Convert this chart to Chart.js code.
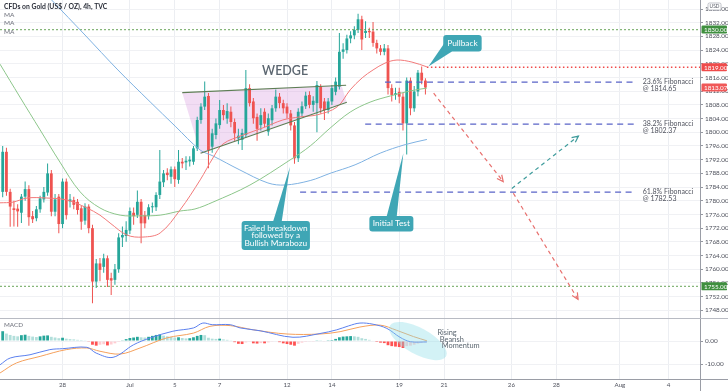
<!DOCTYPE html>
<html><head><meta charset="utf-8">
<script src="https://cdn.jsdelivr.net/npm/chart.js@4.4.1/dist/chart.umd.min.js"></script>
<style>
html,body{margin:0;padding:0;background:#fff;}
#wrap{position:relative;width:728px;height:391px;overflow:hidden;background:#fff;}
canvas{position:absolute;left:0;}
#a{top:0}
#b{top:319px}
</style></head><body>
<div id="wrap"><canvas id="a" width="728" height="319"></canvas><canvas id="b" width="728" height="72"></canvas></div>
<script>
// ---------------- DATA ----------------
const opens = [1782.6,1794.3,1782.6,1777.8,1777.7,1776.5,1781.2,1783.4,1775.5,1774.9,
1777.5,1780.4,1782.4,1788,1776.8,1781.2,1773.2,1785.6,1779.8,1780.2,
1779.7,1777.8,1774.2,1778.3,1772,1756.4,1761.7,1760.7,1763.2,1757.4,
1756.9,1760,1769.3,1769.7,1771.3,1776.5,1775.9,1779.7,1775.8,1775.5,
1778.1,1778.1,1781.7,1785.4,1788.2,1787,1789.2,1786.1,1791.4,1791.2,
1791.5,1791.4,1795.3,1803.6,1807.5,1810.6,1795.8,1799.2,1802.1,1806.5,
1804,1806,1803,1798.2,1797.8,1799.2,1812.9,1809,1804.5,1802.1,
1806,1800.2,1803.5,1807,1810.4,1808.5,1807.5,1805.5,1802,1792.4,
1805.5,1807.6,1810.9,1808,1808.5,1813.3,1809,1806.5,1809,1811.8,
1813.3,1823.5,1824,1827.4,1828.3,1829.9,1833,1829,1829.6,1829.4,
1826.1,1824.5,1823.5,1824.5,1812.9,1810.9,1811.8,1810.4,1802.6,1815.1,
1807,1811.9,1817.4,1815.1];
const closes = [1794.3,1782.6,1778.3,1777.3,1776.9,1781.2,1783.4,1775.2,1774.6,1777.5,
1780.7,1782.6,1788,1776.8,1780.4,1773.2,1785.6,1775.8,1780.4,1778.8,
1777.3,1773.9,1778.3,1772,1756.4,1761.7,1759.8,1763.2,1756.9,1756.7,
1760,1769.3,1770,1771.5,1777,1775.5,1779.7,1773.4,1773.4,1778.1,
1778.4,1781.7,1785.6,1788,1787.5,1789.2,1786.3,1791.4,1790.9,1791.7,
1792,1795.3,1803.6,1807.5,1810.4,1794.8,1799.7,1802.6,1806.5,1805,
1806.2,1803,1799.7,1799,1799.8,1812.9,1808.5,1804.1,1801,1805,
1802.5,1804.1,1807,1810.4,1808.5,1807,1805.5,1802,1792.4,1806,
1807.6,1810.7,1808,1809.2,1813.8,1807,1806.5,1809,1812.9,1814.8,
1823.5,1824.2,1827.4,1828.3,1829.9,1833,1827.1,1829.6,1829.2,1826.1,
1824.5,1823.5,1824.5,1812.9,1810.9,1811.4,1810.4,1802.6,1815.1,1807,
1811.9,1817.4,1815.1,1813.07];
const highs = [1796,1795.5,1783.5,1780,1779,1782,1785.6,1784.5,1777,1778.5,
1781.5,1784,1790.9,1789,1782,1782,1786.5,1786.5,1782,1781.2,
1780.5,1778.5,1779.3,1779,1773,1763,1763.3,1764.5,1764,1759,
1761.5,1770.5,1772.5,1774,1778,1778,1783,1780.5,1777,1779,
1779.5,1782.5,1794.8,1789,1789.5,1790,1790,1794.8,1792.5,1793,
1793,1796,1804.5,1808.5,1814.8,1811.5,1801,1804,1809.4,1808,
1808.5,1807.5,1804,1801,1801,1818.2,1814,1810,1805.5,1807,
1807,1805.5,1808,1812.5,1811.5,1809.5,1808.5,1806.5,1803,1807,
1809,1811.8,1812,1810.5,1815,1814,1810,1810,1813.8,1816,
1829,1826,1828.5,1829.5,1831,1834.6,1834,1832.4,1830.5,1832.2,
1827,1825.5,1825.8,1825.5,1814,1813,1813,1811.5,1816,1816,
1813.5,1818.2,1819.2,1815.8];
const lows = [1781,1781.5,1772.4,1772.5,1772.4,1773.5,1780,1772.7,1773.5,1774,
1776.5,1779.5,1781.5,1775.5,1775.5,1770.5,1772,1774.5,1778,1777.5,
1776,1771.5,1773,1770.5,1750.1,1754.5,1756.5,1759,1754.8,1752.5,
1755.5,1759,1766.5,1768,1770.3,1773,1775,1767.6,1772,1774.5,
1776.5,1777,1780.5,1784,1786,1785,1784,1785,1789.5,1789,
1790,1790.5,1794.5,1802.5,1806.5,1789.5,1794,1798,1801,1803.5,
1802.5,1801.5,1797.5,1796.5,1794.8,1798.5,1807.5,1802.5,1797.5,1800.5,
1801.5,1799,1802,1806,1807,1805.5,1804,1800.5,1790.8,1791.3,
1804.5,1806.8,1807,1806,1800,1805.5,1803.6,1805.5,1808,1810.8,
1812.5,1821.5,1823,1826,1827.2,1829,1824,1827.5,1827.5,1825,
1823,1822.5,1822.5,1811,1809,1809.5,1808.5,1800.5,1793.5,1805,
1806,1810.5,1814,1811];

// moving averages: [bar index, price]
const ma20 = [[-0.72,1779.4],[2.75,1779.6],[6.5,1780.8],[11.8,1780.8],[17.2,1780.2],[22.5,1777.9],[26,1775.8],[28.7,1773.5],[33.2,1770],[37.5,1769.4],[42.1,1770.6],[47.4,1777.3],[52.8,1786.1],[56.2,1792.5],[58.9,1796.6],[64.3,1799.2],[69.6,1801.3],[74.9,1803.6],[79.5,1804.5],[84.1,1805.1],[89.4,1807.4],[92.9,1812.4],[96.1,1815.9],[99,1818.2],[102.2,1820.2],[105.4,1821.1],[109.4,1820.5],[113.4,1819.1]];
const ma50 = [[-0.72,1819.9],[4.6,1810.3],[10,1800.7],[15.3,1791.3],[20.7,1782.6],[26,1777.9],[31.4,1775.8],[36.7,1775.6],[42.1,1775.8],[47.4,1777],[51.4,1777.6],[56.2,1779.6],[66.1,1784.6],[76.8,1791.9],[82.2,1796],[87.5,1801.2],[92.9,1805.9],[98.2,1808.8],[103.6,1810.6],[109,1812.1],[113.4,1812.9]];
const ma100 = [[7.3,1845.4],[13.1,1838.6],[22,1828.4],[30.8,1818.2],[39.4,1808.9],[46.1,1801.8],[52.8,1794.8],[56.2,1793.1],[63.4,1789],[70.9,1785.2],[75.5,1784.6],[82.2,1785.9],[87.5,1788],[94.2,1790.5],[100.9,1793.9],[107.6,1796.4],[113.4,1797.9]];

// MACD pane
const macdHist = [4.2,3.2,2.6,2.2,2.0,2.5,2.7,2.2,1.9,1.7,
2.0,2.3,2.4,1.8,1.5,1.2,1.4,1.0,0.8,0.7,
0.5,0.4,0.3,-0.3,-1.6,-2.0,-1.6,-1.4,-1.9,-1.5,
-1.0,-0.4,0.3,0.8,1.3,1.5,1.8,1.6,1.5,1.8,
2.2,2.6,2.8,2.3,2.0,1.8,1.5,1.6,1.3,1.1,
1.2,1.6,2.2,2.6,2.5,1.4,1.0,0.9,1.0,0.7,
0.5,0.3,-0.5,-1.2,-1.3,-0.6,-0.3,-1.0,-1.1,-0.9,
-1.0,-0.6,-0.3,-0.2,-0.5,-1.0,-1.3,-1.6,-2.0,-1.2,
-0.7,-0.4,-0.3,-0.1,0.3,0.1,-0.2,0.1,0.4,0.9,
1.6,1.9,2.0,2.1,2.0,1.8,1.2,0.9,0.5,0.2,
-0.4,-0.7,-0.9,-1.8,-2.2,-2.4,-2.6,-3.0,-2.2,-2.0,
-1.6,-1.1,-0.8,-0.6];
const macdLine = [[-0.7,-10.2],[2,-7.3],[7.3,-5.9],[12.6,-3.7],[16,-3.3],[22.5,-2.7],[25,-5.2],[29.5,-7],[35,-1.6],[39.4,1.3],[45.5,4.2],[51,5.6],[53.5,7.7],[56,7],[60.8,7],[63.5,5.6],[68.8,4.4],[77.6,1.6],[84.8,3.2],[89.3,4.8],[92.5,6.5],[95.5,7.7],[99,7.2],[102.7,5.4],[106.2,1.6],[109,-0.3],[113.4,-0.4]];
const signalLine = [[-0.7,-13.7],[3.7,-9.4],[10,-6.6],[17,-3.7],[22.5,-3],[26,-4.4],[31.4,-5.6],[36.7,-3],[43.8,1.3],[51,3.4],[55.4,6.3],[60.8,6.6],[67,4.8],[76,3],[84.8,3],[90.2,4.0],[95.5,6.0],[100.9,6.8],[105.3,4.6],[109.8,1.9],[113.4,0.1]];

// axes
const dayTicks  = [16,34,46,58,76,88,106,118,136,148,165,178];
const dayLabels = ['28','Jul','5','7','12','14','19','21','26','28','Aug','4'];
const priceTicks = [1748,1752,1756,1760,1764,1768,1772,1776,1780,1784,1788,1792,1796,1800,1804,1808,1812,1816,1820,1824,1828,1832,1836];
const macdTicks = [0,-10];

// levels & drawings
const fibNames  = ['23.6% Fibonacci','38.2% Fibonacci','61.8% Fibonacci'];
const fibLevels = [1814.65,1802.37,1782.53];
const fibStart  = [102.2,96.9,79.5];
const fibEnd    = 169.1;
const supportLevels = [1830,1755];
const resistanceLevel = 1819;
const resistanceStart = 113.4;
const lastPrice = 1813.07;
const wedgeFill  = [[48.0,1811.57],[90.6,1813.61],[91.9,1808.94],[52.9,1793.87]];
const wedgeUpper = [[48.0,1811.57],[91.8,1813.73]];
const wedgeLower = [[52.9,1793.87],[92.0,1808.76]];
const arrowRed1  = [[115.2,1811.4],[133.8,1785.6]];
const arrowRed2  = [[136.5,1782.2],[153.8,1751.2]];
const arrowTeal  = [[136.1,1783.6],[153.9,1798.9]];

// ---------------- CHART ----------------
const FONT = "Lato, 'Liberation Sans', sans-serif";
Chart.defaults.font.family = FONT;
const X_MIN = -0.72, X_MAX = 186.4;
const UP = '#26a69a', DN = '#ef5350';
const candleColors = opens.map((o,i)=> closes[i] >= o ? UP : DN);
const xy = a => a.map(p => ({x:p[0], y:p[1]}));
const zeroPad = s => { s.paddingTop = 0; s.paddingBottom = 0; s.paddingLeft = 0; s.paddingRight = 0; };

const lineDs = (data, color, extra) => Object.assign({type:'line', data, borderColor:color, borderWidth:1, pointRadius:0, tension:0.35, fill:false, order:0}, extra||{});

const datasetsA = [
  lineDs(xy(ma20), '#f27a7a'),
  lineDs(xy(ma50), '#8cc68a'),
  lineDs(xy(ma100), '#7fb2e2'),
  ...supportLevels.map(v => lineDs([{x:X_MIN-1,y:v},{x:X_MAX+1,y:v}], '#5f9f4f', {borderDash:[1.5,2.5], borderWidth:1.2, tension:0})),
  lineDs([{x:resistanceStart,y:resistanceLevel},{x:X_MAX+1,y:resistanceLevel}], '#ef4a4a', {borderDash:[1.5,2.5], borderWidth:1.4, tension:0}),
  ...fibLevels.map((v,i) => lineDs([{x:fibStart[i],y:v},{x:fibEnd,y:v}], '#5a64c8', {borderDash:[6,4.5], borderWidth:1.3, tension:0})),
  {type:'bar', data: opens.map((o,i)=>({x:i, y:[lows[i], highs[i]]})), backgroundColor: candleColors, barThickness:1, grouped:false, order:2, inflateAmount:0},
  {type:'bar', data: opens.map((o,i)=>({x:i, y:[o, closes[i]]})), backgroundColor: candleColors, barThickness:2.8, grouped:false, minBarLength:1, order:1, inflateAmount:0}
];

const callouts = [
  {lines:['Pullback'], tip:[113.8,1819.2], center:[122.9,1826.0], w:38.4, h:16.7, base:[[-18.5,0.5],[-10.5,8.35]]},
  {lines:['Failed breakdown','followed by a','Bullish Marabozu'], tip:[76.8,1789.95], center:[73.0,1769.86], w:68.3, h:29, base:[[-2.5,-14.5],[6,-14.5]]},
  {lines:['Initial Test'], tip:[107.1,1793.9], center:[103.9,1773.28], w:44, h:15.7, base:[[-4.6,-7.85],[5.4,-7.85]]}
];
const axisBoxes = [
  {v:1830, t:'1830.00', c:'#3f8f3f'},
  {v:1819, t:'1819.00', c:'#ef4b4b'},
  {v:lastPrice, t:lastPrice.toFixed(2), c:'#f05858'},
  {v:1755, t:'1755.00', c:'#3f8f3f'}
];

function rrect(ctx,x,y,w,h,r){ctx.beginPath();ctx.moveTo(x+r,y);ctx.lineTo(x+w-r,y);ctx.quadraticCurveTo(x+w,y,x+w,y+r);ctx.lineTo(x+w,y+h-r);ctx.quadraticCurveTo(x+w,y+h,x+w-r,y+h);ctx.lineTo(x+r,y+h);ctx.quadraticCurveTo(x,y+h,x,y+h-r);ctx.lineTo(x,y+r);ctx.quadraticCurveTo(x,y,x+r,y);ctx.closePath();}
function arrow(ctx,p1,p2,color){
  ctx.strokeStyle=color; ctx.lineWidth=1.2; ctx.setLineDash([4,3.5]);
  ctx.beginPath(); ctx.moveTo(p1[0],p1[1]); ctx.lineTo(p2[0],p2[1]); ctx.stroke();
  ctx.setLineDash([]);
  const a=Math.atan2(p2[1]-p1[1],p2[0]-p1[0]), L=7;
  ctx.beginPath();
  ctx.moveTo(p2[0]-L*Math.cos(a-0.45), p2[1]-L*Math.sin(a-0.45));
  ctx.lineTo(p2[0],p2[1]);
  ctx.lineTo(p2[0]-L*Math.cos(a+0.45), p2[1]-L*Math.sin(a+0.45));
  ctx.stroke();
}

const annA = {
  id:'annA',
  beforeDatasetsDraw(chart){
    const {ctx, scales:{x,y}} = chart;
    ctx.save();
    ctx.fillStyle='rgba(214,150,222,0.32)';
    ctx.beginPath();
    wedgeFill.forEach((p,i)=>{const px=x.getPixelForValue(p[0]), py=y.getPixelForValue(p[1]); i?ctx.lineTo(px,py):ctx.moveTo(px,py);});
    ctx.closePath(); ctx.fill();
    ctx.restore();
  },
  afterDatasetsDraw(chart){
    const {ctx, scales:{x,y}, chartArea:ca} = chart;
    const P = p => [x.getPixelForValue(p[0]), y.getPixelForValue(p[1])];
    ctx.save();
    ctx.beginPath(); ctx.rect(ca.left, ca.top, ca.width, ca.height); ctx.clip();
    // wedge lines
    ctx.strokeStyle='#5e7d55'; ctx.lineWidth=1.2;
    [wedgeUpper, wedgeLower].forEach(l=>{const a=P(l[0]), b=P(l[1]); ctx.beginPath(); ctx.moveTo(a[0],a[1]); ctx.lineTo(b[0],b[1]); ctx.stroke();});
    // WEDGE label
    ctx.fillStyle='#5b6670'; ctx.font="600 12.5px "+FONT; ctx.textAlign='center'; ctx.textBaseline='middle';
    const wl = P([75.5,1817.9]); ctx.fillText('WEDGE', wl[0], wl[1]);
    // arrows
    arrow(ctx, P(arrowRed1[0]), P(arrowRed1[1]), '#e8706e');
    arrow(ctx, P(arrowRed2[0]), P(arrowRed2[1]), '#e8706e');
    arrow(ctx, P(arrowTeal[0]), P(arrowTeal[1]), '#3f9c9c');
    // fib labels
    ctx.fillStyle='#50535e'; ctx.font="7px "+FONT; ctx.textAlign='left'; ctx.textBaseline='middle';
    fibLevels.forEach((v,i)=>{const px=x.getPixelForValue(fibEnd)+7.5, py=y.getPixelForValue(v);
      ctx.fillText(fibNames[i], px, py); ctx.fillText('@ '+v.toFixed(2), px, py+7);});
    // callouts
    callouts.forEach(c=>{
      const t=P(c.tip), m=P(c.center);
      const bx=m[0]-c.w/2, by=m[1]-c.h/2;
      ctx.fillStyle='#3fa6b5';
      ctx.beginPath(); ctx.moveTo(m[0]+c.base[0][0], m[1]+c.base[0][1]); ctx.lineTo(t[0],t[1]); ctx.lineTo(m[0]+c.base[1][0], m[1]+c.base[1][1]); ctx.closePath(); ctx.fill();
      rrect(ctx,bx,by,c.w,c.h,3); ctx.fill();
      ctx.fillStyle='#ffffff'; ctx.font="8.3px "+FONT; ctx.textAlign='center'; ctx.textBaseline='middle';
      const lh=7.6, n=c.lines.length;
      c.lines.forEach((s,k)=>ctx.fillText(s, m[0], m[1]+(k-(n-1)/2)*lh));
    });
    // legend
    ctx.textAlign='left'; ctx.textBaseline='middle';
    ctx.fillStyle='#2a2e39'; ctx.font="bold 6.8px "+FONT;
    ctx.fillText('CFDs on Gold (US$ / OZ), 4h, TVC', 4, 7.3);
    ctx.fillStyle='#6a6d78'; ctx.font="6.5px "+FONT;
    [15,23.3,31.6].forEach(yy=>ctx.fillText('MA',4,yy));
    ctx.restore();
  },
  afterDraw(chart){
    const {ctx, scales:{y}, chartArea:ca} = chart;
    ctx.save();
    // axis label boxes
    axisBoxes.forEach(b=>{
      const py=y.getPixelForValue(b.v);
      ctx.fillStyle=b.c; rrect(ctx, ca.right+1.5, py-4, 25.5, 8, 1.2); ctx.fill();
      ctx.fillStyle='#fff'; ctx.font="6.3px "+FONT; ctx.textAlign='left'; ctx.textBaseline='middle';
      ctx.fillText(b.t, ca.right+4, py+0.3);
    });
    // USD box
    ctx.fillStyle='#fff'; ctx.strokeStyle='#b0b3bb'; ctx.lineWidth=0.8;
    rrect(ctx, 708, 3, 13, 7, 1.5); ctx.fill(); ctx.stroke();
    ctx.fillStyle='#50535e'; ctx.font="4.8px "+FONT; ctx.textAlign='center'; ctx.textBaseline='middle';
    ctx.fillText('USD', 714.5, 6.7);
    // pane separator
    ctx.strokeStyle='#b8bbc3'; ctx.lineWidth=1;
    ctx.beginPath(); ctx.moveTo(0, 318.5); ctx.lineTo(728, 318.5); ctx.stroke();
    ctx.restore();
  }
};

new Chart(document.getElementById('a'), {
  type:'bar',
  data:{datasets: datasetsA},
  options:{
    responsive:false, animation:false, devicePixelRatio:1,
    layout:{padding:0},
    plugins:{legend:{display:false}, tooltip:{enabled:false}},
    scales:{
      x:{type:'linear', min:X_MIN, max:X_MAX, offset:false,
         afterBuildTicks: s => { s.ticks = dayTicks.map(v=>({value:v})); },
         ticks:{display:false}, grid:{color:'#eceef2', drawTicks:false, offset:false}, border:{display:false},
         afterFit: s => { s.height = 0; zeroPad(s); }},
      y:{type:'linear', position:'right', min:1745.47, max:1838.63,
         afterBuildTicks: s => { s.ticks = priceTicks.map(v=>({value:v})); },
         ticks:{callback: v => Number(v).toFixed(2), font:{size:6.4, family:FONT}, color:'#50535e', padding:2, autoSkip:false},
         grid:{color:'#f0f1f4', tickLength:3, tickColor:'#9598a1'}, border:{color:'#9a9da6'},
         afterFit: s => { s.width = 28; zeroPad(s); }}
    }
  },
  plugins:[annA]
});

// ---------------- MACD ----------------
const histColors = macdHist.map((v,i)=>{const p = i ? macdHist[i-1] : v;
  return v >= 0 ? (v >= p ? '#26a69a' : '#b2dfdb') : (v < p ? '#ff5252' : '#ffcdd2');});

const annB = {
  id:'annB',
  afterDatasetsDraw(chart){
    const {ctx, scales:{x,y}, chartArea:ca} = chart;
    ctx.save();
    ctx.beginPath(); ctx.rect(ca.left, ca.top, ca.width, ca.height); ctx.clip();
    const cx=x.getPixelForValue(111), cy=y.getPixelForValue(0);
    ctx.fillStyle='rgba(140,220,232,0.38)';
    ctx.beginPath(); ctx.ellipse(cx, cy, 32, 13, 0.5, 0, Math.PI*2); ctx.fill();
    ctx.fillStyle='#5b6670'; ctx.font="7.4px "+FONT; ctx.textAlign='left'; ctx.textBaseline='middle';
    const tx=x.getPixelForValue(116.2), ty=y.getPixelForValue(3.6);
    ctx.fillText('Rising', tx, ty); ctx.fillText('Bearish', tx+2.4, ty+6.6); ctx.fillText('Momentum', tx+4.4, ty+13.3);
    ctx.fillStyle='#6a6d78'; ctx.font="6.3px "+FONT;
    ctx.fillText('MACD', 4, 6);
    ctx.restore();
  },
  afterDraw(chart){
    const {ctx, chartArea:ca} = chart;
    ctx.save();
    ctx.strokeStyle='#9a9da6'; ctx.lineWidth=1;
    ctx.beginPath(); ctx.moveTo(0, ca.bottom+0.5); ctx.lineTo(728, ca.bottom+0.5); ctx.stroke();
    ctx.beginPath(); ctx.moveTo(ca.right+0.5, 0); ctx.lineTo(ca.right+0.5, 72); ctx.stroke();
    ctx.restore();
  }
};

new Chart(document.getElementById('b'), {
  type:'bar',
  data:{datasets:[
    {type:'line', data: xy(macdLine), borderColor:'#5c80ee', borderWidth:1, pointRadius:0, tension:0.35, order:0},
    {type:'line', data: xy(signalLine), borderColor:'#f5a05c', borderWidth:1, pointRadius:0, tension:0.35, order:0},
    {type:'bar', data: macdHist.map((v,i)=>({x:i, y:v})), backgroundColor: histColors, barThickness:2.8, grouped:false, order:1, inflateAmount:0}
  ]},
  options:{
    responsive:false, animation:false, devicePixelRatio:1,
    layout:{padding:0},
    plugins:{legend:{display:false}, tooltip:{enabled:false}},
    scales:{
      x:{type:'linear', min:X_MIN, max:X_MAX, offset:false,
         afterBuildTicks: s => { s.ticks = dayTicks.map(v=>({value:v})); },
         ticks:{callback: v => dayLabels[dayTicks.indexOf(v)], font:{size:6.2, family:FONT}, color:'#50535e', padding:2, autoSkip:false, maxRotation:0},
         grid:{color:'#eceef2', drawTicks:false, offset:false}, border:{display:false},
         afterFit: s => { s.height = 12; zeroPad(s); }},
      y:{type:'linear', position:'right', min:-16.3, max:9.44,
         afterBuildTicks: s => { s.ticks = macdTicks.map(v=>({value:v})); },
         ticks:{callback: v => Number(v).toFixed(2), font:{size:6.4, family:FONT}, color:'#50535e', padding:2, autoSkip:false},
         grid:{color:'#f0f1f4', tickLength:3, tickColor:'#9598a1'}, border:{color:'#9a9da6'},
         afterFit: s => { s.width = 28; zeroPad(s); }}
    }
  },
  plugins:[annB]
});
</script>
</body></html>
